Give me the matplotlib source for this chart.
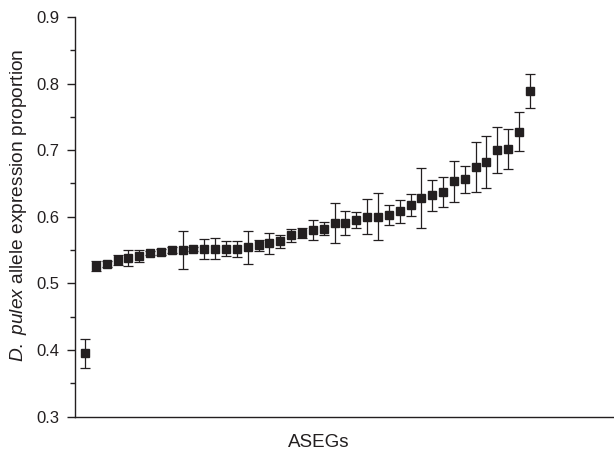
import matplotlib
matplotlib.use("Agg")
import matplotlib.pyplot as plt
from matplotlib.ticker import MultipleLocator
import numpy as np

# D. pulex allele expression proportion per ASEG (sorted), with error bars
proportion = [0.395, 0.526, 0.529, 0.535, 0.538, 0.541, 0.545, 0.547, 0.550, 0.550,
              0.551, 0.552, 0.552, 0.552, 0.552, 0.554, 0.557, 0.560, 0.563, 0.572,
              0.576, 0.580, 0.582, 0.590, 0.590, 0.595, 0.600, 0.600, 0.603, 0.608,
              0.617, 0.628, 0.632, 0.637, 0.653, 0.656, 0.675, 0.682, 0.700, 0.702,
              0.728, 0.789]
error = [0.022, 0.008, 0.005, 0.0075, 0.0115, 0.009, 0.003, 0.004, 0.004, 0.028,
         0.003, 0.015, 0.016, 0.0115, 0.012, 0.025, 0.008, 0.016, 0.010, 0.010,
         0.0075, 0.015, 0.0095, 0.030, 0.018, 0.012, 0.026, 0.035, 0.015, 0.017,
         0.0165, 0.045, 0.023, 0.023, 0.031, 0.020, 0.038, 0.039, 0.035, 0.030,
         0.029, 0.026]
y_ticks = [0.3, 0.4, 0.5, 0.6, 0.7, 0.8, 0.9]

plt.rcParams['font.family'] = ['Liberation Sans', 'DejaVu Sans']
plt.rcParams['mathtext.fontset'] = 'custom'
plt.rcParams['mathtext.rm'] = 'Liberation Sans'
plt.rcParams['mathtext.it'] = 'Liberation Sans:italic'

fig = plt.figure(figsize=(6.14, 4.5), dpi=100)
ax = fig.add_axes([0.1221, 0.0744, 0.8779, 0.8878])

x = np.arange(len(proportion))
ax.errorbar(x, proportion, yerr=error, fmt='s', color='#231f20', ecolor='#231f20',
            markersize=5.7, elinewidth=0.9, capsize=3.3, capthick=0.9)

ax.set_xlim(-0.92, 48.75)
ax.set_ylim(0.3, 0.9)
ax.set_yticks(y_ticks)
ax.set_yticklabels([f"{t:.1f}" for t in y_ticks])
ax.yaxis.set_minor_locator(MultipleLocator(0.05))
ax.set_xticks([])

for side in ['top', 'right']:
    ax.spines[side].set_visible(False)
for side in ['left', 'bottom']:
    ax.spines[side].set_linewidth(1.0)
    ax.spines[side].set_color('#231f20')

ax.tick_params(axis='y', which='major', length=6, width=1.0, direction='out',
               labelsize=12, pad=5, colors='#231f20')
ax.tick_params(axis='y', which='minor', length=3.5, width=1.0, direction='out',
               colors='#231f20')

ax.set_ylabel(r'$\it{D.\ pulex}$ allele expression proportion', fontsize=13.8,
              color='#231f20')
ax.yaxis.set_label_coords(-0.085, 0.529)
ax.set_xlabel('ASEGs', fontsize=13.5, color='#231f20')
ax.xaxis.set_label_coords(0.453, -0.043)

fig.savefig('out.png', dpi=100)
